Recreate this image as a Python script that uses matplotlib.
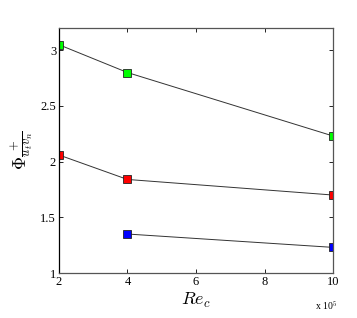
import matplotlib.pyplot as plt

plt.rcParams['font.family'] = 'Liberation Serif'
plt.rcParams['mathtext.fontset'] = 'cm'

re_c = [2, 4, 10]  # x 10^5
phi_green = [3.05, 2.80, 2.23]
phi_red = [2.06, 1.84, 1.70]
re_c_blue = [4, 10]
phi_blue = [1.35, 1.23]

fig = plt.figure(figsize=(3.57, 3.18), dpi=100)
ax = fig.add_axes([0.165, 0.1415, 0.768, 0.7705])

kw = dict(color='#333333', linewidth=0.7, marker='s', markersize=6,
          markeredgecolor='#222222', markeredgewidth=0.6)
ax.plot(re_c, phi_green, markerfacecolor='#00ff00', **kw)
ax.plot(re_c, phi_red, markerfacecolor='#ff0000', **kw)
ax.plot(re_c_blue, phi_blue, markerfacecolor='#0000ff', **kw)

ax.set_xlim(2, 10)
ax.set_ylim(1, 3.2)
ax.set_xticks([2, 4, 6, 8, 10])
ax.set_yticks([1, 1.5, 2, 2.5, 3])
ax.set_yticklabels(['1', '1.5', '2', '2.5', '3'])
ax.tick_params(direction='in', labelsize=9, length=3, width=0.6,
               top=True, right=True, pad=2)
for s in ax.spines.values():
    s.set_color('#555555')
    s.set_linewidth(0.9)
ax.spines['left'].set_color('black')

ax.set_xlabel(r'$Re_c$', fontsize=13, labelpad=2)
ax.set_ylabel(r'$\Phi_{\overline{u_t v_n}}^{\ +}$', fontsize=13, labelpad=4)
ax.text(1.015, -0.135, r'x 10$^5$', transform=ax.transAxes, fontsize=7,
        ha='right', va='center')

fig.savefig('out.png', dpi=100)
